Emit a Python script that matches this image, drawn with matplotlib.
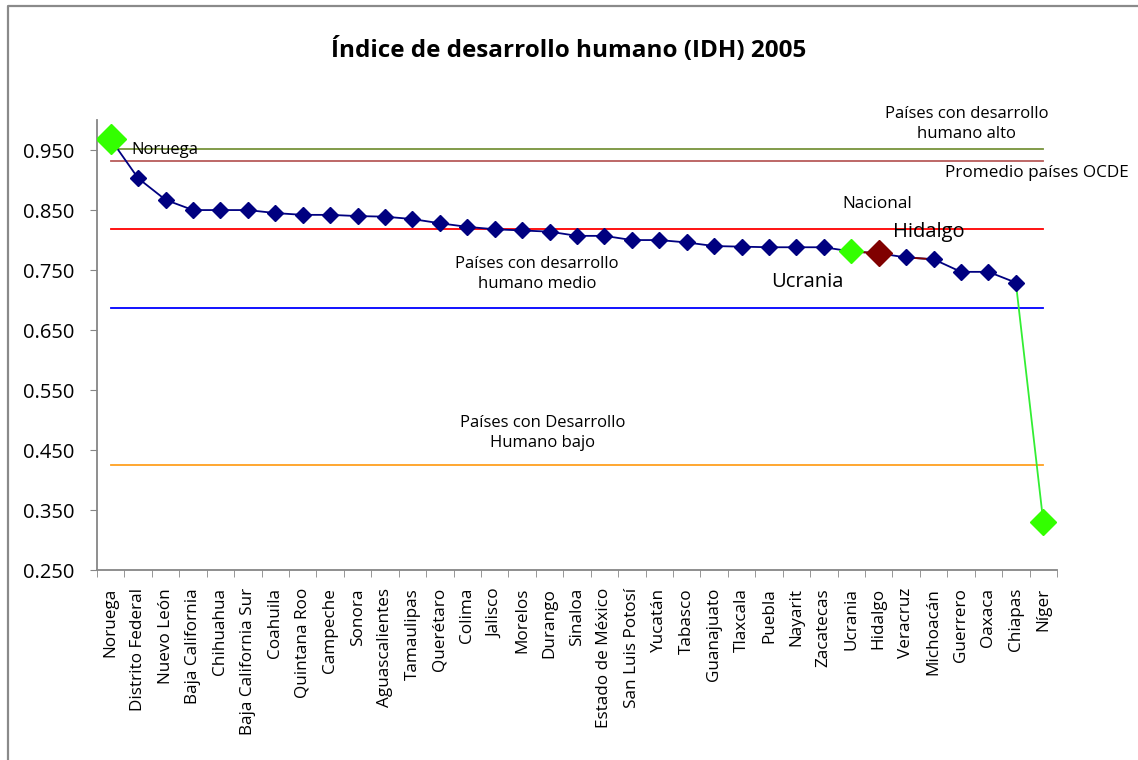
import numpy as np
import matplotlib.pyplot as plt
from matplotlib.lines import Line2D

plt.rcParams['font.family'] = ['Open Sans', 'DejaVu Sans']

# data
estados = ['Noruega', 'Distrito Federal', 'Nuevo León', 'Baja California', 'Chihuahua',
           'Baja California Sur', 'Coahuila', 'Quintana Roo', 'Campeche', 'Sonora',
           'Aguascalientes', 'Tamaulipas', 'Querétaro', 'Colima', 'Jalisco', 'Morelos',
           'Durango', 'Sinaloa', 'Estado de México', 'San Luis Potosí', 'Yucatán',
           'Tabasco', 'Guanajuato', 'Tlaxcala', 'Puebla', 'Nayarit', 'Zacatecas',
           'Ucrania', 'Hidalgo', 'Veracruz', 'Michoacán', 'Guerrero', 'Oaxaca',
           'Chiapas', 'Níger']
idh = [0.968, 0.903, 0.867, 0.850, 0.850, 0.850, 0.845, 0.842, 0.842, 0.840,
       0.839, 0.835, 0.828, 0.822, 0.818, 0.816, 0.814, 0.807, 0.807, 0.800,
       0.800, 0.796, 0.790, 0.789, 0.788, 0.788, 0.788, 0.781, 0.778, 0.771,
       0.768, 0.747, 0.747, 0.729, 0.330]

alto = 0.952
ocde = 0.932
nacional = 0.818
medio = 0.687
bajo = 0.425

yticks = [0.25, 0.35, 0.45, 0.55, 0.65, 0.75, 0.85, 0.95]

x = np.arange(len(estados))
n = len(estados)

fig = plt.figure(figsize=(11.38, 7.6), dpi=100)
ax = fig.add_axes([97/1138, 0.25, 960/1138, 0.592])

# reference lines
ax.plot(x, [alto]*n, color='#77933c', lw=1.3)
ax.plot(x, [ocde]*n, color='#b85c5a', lw=1.3)
ax.plot(x, [nacional]*n, color='#ff0000', lw=1.3)
ax.plot(x, [medio]*n, color='#0000ff', lw=1.3)
ax.plot(x, [bajo]*n, color='#ffa020', lw=1.3)

# main series
iu = estados.index('Ucrania')
ih = estados.index('Hidalgo')
iv = estados.index('Veracruz')
ic = estados.index('Chiapas')
ax.plot(x[:ic+1], idh[:ic+1], color='#000080', lw=1.3, zorder=3)
ax.plot(x[iu:ih+1], idh[iu:ih+1], color='#800000', lw=1.3, zorder=3)
ax.plot(x[iv:iv+2], idh[iv:iv+2], color='#800000', lw=1.3, zorder=3)
ax.plot(x[ic:], idh[ic:], color='#33ee33', lw=1.3, zorder=3)
ax.plot(x[:ic+1], idh[:ic+1], 'D', color='#000080', ms=8.5, zorder=4)

# highlighted points
ax.plot(x[0], idh[0], 'D', color='#33ff00', ms=15, zorder=5)
ax.plot(x[-1], idh[-1], 'D', color='#33ff00', ms=13, zorder=5)
ax.plot(x[iu], idh[iu], 'D', color='#33ff00', ms=12, zorder=5)
ax.plot(x[ih], idh[ih], 'D', color='#800000', ms=13, zorder=5)

# labels
ax.text(0.74, 0.95, 'Noruega', fontsize=12, va='center', ha='left')
ax.text(31.2, 0.993, 'Países con desarrollo\nhumano alto', fontsize=12,
        ha='center', va='center', linespacing=1.3)
ax.text(37.1, 0.912, 'Promedio países OCDE', fontsize=12.3, ha='right', va='center')
ax.text(27.94, 0.86, 'Nacional', fontsize=12.3, ha='center', va='center')
ax.text(29.83, 0.813, 'Hidalgo', fontsize=14.5, ha='center', va='center')
ax.text(15.54, 0.743, 'Países con desarrollo\nhumano medio', fontsize=12,
        ha='center', va='center', linespacing=1.3)
ax.text(25.38, 0.73, 'Ucrania', fontsize=14.5, ha='center', va='center')
ax.text(15.76, 0.478, 'Países con Desarrollo\nHumano bajo', fontsize=12,
        ha='center', va='center', linespacing=1.3)

ax.set_xlim(-0.5, n - 0.5)
ax.set_ylim(0.25, 1.0)
ax.set_yticks(yticks)
ax.set_yticklabels(['%.3f' % v for v in yticks], fontsize=14.5)
ax.set_xticks(x)
ax.set_xticklabels(estados, rotation=90, fontsize=12.3)
ax.set_xticks(np.arange(-0.5, n, 1), minor=True)
ax.tick_params(axis='x', which='major', length=0, pad=13)
ax.tick_params(axis='x', which='minor', length=5, color='#868686', direction='out')
ax.tick_params(axis='y', length=5, color='#868686', direction='out', pad=11)

for s in ['top', 'right']:
    ax.spines[s].set_visible(False)
for s in ['left', 'bottom']:
    ax.spines[s].set_color('#868686')
    ax.spines[s].set_linewidth(1.3)

fig.text(0.5, 1 - 50/760, 'Índice de desarrollo humano (IDH) 2005', fontsize=17.5,
         fontweight='bold', ha='center', va='center')

# chart border (only top and left edges visible)
fig.add_artist(Line2D([7.5/1138, 7.5/1138, 1.0], [0.0, 1 - 5.5/760, 1 - 5.5/760],
                      transform=fig.transFigure, color='#8a8a8a', lw=1.6))

fig.savefig('out.png', dpi=100)
